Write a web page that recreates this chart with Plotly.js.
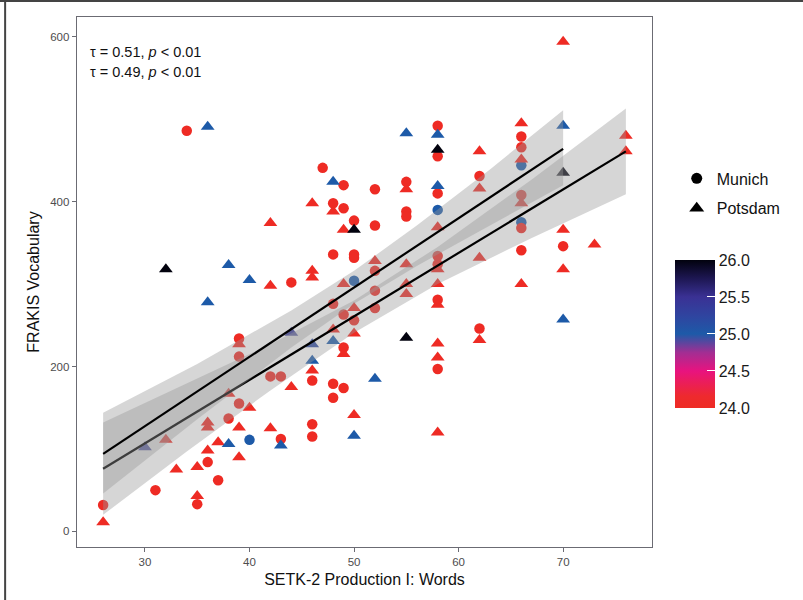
<!DOCTYPE html>
<html><head><meta charset="utf-8">
<script src="https://cdn.plot.ly/plotly-3.0.1.min.js"></script>
<style>html,body{margin:0;padding:0;background:#fff}#chart{width:803px;height:600px}</style>
</head><body><div id="chart"></div>
<script>
// ---- Munich (circles) ----
const munichX = [26,31,34,35,36,37,38, 39,39,39, 40, 42, 43,43, 44, 46,46,46, 47,
  48,48,48,48,48, 49,49,49,49,49, 50,50,50,50,50, 52,52,52,52,52, 55,55,55,
  58,58,58,58,58,58,58,58, 62,62, 66,66,66,66,66,66,66, 70];
const munichY = [32,50,486,33,84,62,137, 234,212,155, 111, 188, 188,112, 302, 183,130,115, 441,
  398,336,276,179,162, 420,392,263,223,174, 377,336,332,304,256, 415,371,316,292,271, 424,388,382,
  492,455,410,390,334,324,281,197, 431,246, 479,466,444,408,375,368,341, 346];
const munichAge = [24,24,24,24,24,24,24, 24,24,24, 25, 24, 24,24, 24, 24,24,24, 24,
  24,24,24,24,24, 24,24,24,24,24, 24,24,24,25,24, 24,24,24,24,24, 24,24,24,
  24,24,24,25,24,24,24,24, 24,24, 24,24,25,24,25,24,24, 24];

// ---- Potsdam (triangles) ----
const potsdamX = [26, 30, 32,32, 33, 35,35, 36,36,36,36,36, 37, 38,38,38, 39,39,39, 40,40,
  42,42,42, 43, 44,44, 46,46,46,46,46,46, 48,48,48,48, 49,49,49, 50,50,50,50,50, 52,52,
  55,55,55,55,55,55, 58,58,58,58,58,58,58,58,58,58, 62,62,62,62, 66,66,66,66,
  70,70,70,70,70,70, 73, 76,76];
const potsdamY = [11, 102, 318,111, 75, 78,43, 491,278,132,126,98, 108, 323,167,106, 227,126,90, 305,150,
  374,298,125, 104, 241,175, 398,316,308,227,207,195, 424,388,245,231, 366,300,215, 366,271,240,141,116, 328,185,
  483,415,324,300,288,235, 481,463,419,369,318,300,275,228,211,120, 461,416,332,232, 495,451,398,300,
  594,492,435,366,318,257, 348, 480,461];
const potsdamAge = [24, 25.4, 26,24, 24, 24,24, 25,25,24,24,24, 24, 25,24,25, 24,24,24, 25,24,
  24,24,24, 25, 25.4,24, 24,24,24,25.2,25,24, 25,24,24,25, 24,24,24, 26,24,24,24,25, 24,25,
  25,24,24,24,24,26, 25,26,25,24,24,24,24,24,24,24, 24,24,24,24, 24,24,24,24,
  24,25,26,24,24,25, 24, 24,24];

// ---- linear fits with 95% confidence bands ----
const fitMunichX = [26, 70];
const fitMunichY = [94, 464];
const bandMunichX  = [26, 35, 44, 50, 56, 63, 70];
const bandMunichLo = [46, 136, 223, 276, 322, 371, 420];
const bandMunichHi = [144, 203, 268, 316, 371, 439, 511];

const fitPotsdamX = [26, 76];
const fitPotsdamY = [76, 461];
const bandPotsdamX  = [26, 34, 42, 50, 58, 67, 76];
const bandPotsdamLo = [20, 97, 171, 241, 300, 356, 409];
const bandPotsdamHi = [132, 179, 227, 280, 345, 427, 513];

const groupNames = ['Munich', 'Potsdam'];
const tauLabels = ['\u03c4 = 0.51, <i>p</i> &lt; 0.01', '\u03c4 = 0.49, <i>p</i> &lt; 0.01'];
const colorTicks = [24, 24.5, 25, 25.5, 26];
const xTicks = [30, 40, 50, 60, 70];
const yTicks = [0, 200, 400, 600];

const colorscale = [[0,'#ee2b24'],[0.08,'#ee2a2e'],[0.25,'#e8137f'],[0.375,'#a22e93'],
  [0.5,'#1d5aa8'],[0.62,'#2f45a0'],[0.75,'#3a3194'],[0.88,'#1c1650'],[1,'#02020e']];

const font = 'Liberation Sans, Arial, Helvetica, sans-serif';
const common = {cmin:24, cmax:26, colorscale:colorscale, line:{width:0}};

function bandTrace(xs, lo, hi){
  return {x: xs.concat(xs.slice().reverse()), y: hi.concat(lo.slice().reverse()),
    type:'scatter', mode:'lines', fill:'toself', fillcolor:'rgba(153,153,153,0.4)',
    line:{width:0}, hoverinfo:'skip', showlegend:false};
}
function lineTrace(xs, ys){
  return {x: xs, y: ys, type:'scatter', mode:'lines', line:{color:'#000', width:2.2},
    hoverinfo:'skip', showlegend:false};
}

const traces = [
  {x: munichX, y: munichY, type:'scatter', mode:'markers', showlegend:false,
   marker: Object.assign({symbol:'circle', size:10.5, color:munichAge, showscale:false}, common)},
  {x: potsdamX, y: potsdamY, type:'scatter', mode:'markers', showlegend:false,
   marker: Object.assign({symbol:'triangle-up', size:12, color:potsdamAge, showscale:true,
     colorbar:{thickness:40, thicknessmode:'pixels', len:148, lenmode:'pixels',
       x:1.04, xanchor:'left', xpad:0, y:0.402, yanchor:'middle', ypad:0,
       outlinewidth:0, tickvals:colorTicks, tickformat:'.1f', ticks:'inside', ticklen:8,
       tickcolor:'#ffffff', tickwidth:1, tickfont:{family:font, size:16, color:'#1a1a1a'}}}, common)},
  bandTrace(bandPotsdamX, bandPotsdamLo, bandPotsdamHi), lineTrace(fitPotsdamX, fitPotsdamY),
  bandTrace(bandMunichX, bandMunichLo, bandMunichHi), lineTrace(fitMunichX, fitMunichY),
  {x:[null], y:[null], type:'scatter', mode:'markers', name:groupNames[0], legendgroup:'m',
   marker:{symbol:'circle', size:11, color:'#000'}},
  {x:[null], y:[null], type:'scatter', mode:'markers', name:groupNames[1], legendgroup:'p',
   marker:{symbol:'triangle-up', size:13, color:'#000'}}
];

const axisCommon = {showgrid:false, zeroline:false, showline:true, mirror:true, linecolor:'#6b6b73',
  linewidth:1.3, ticks:'outside', ticklen:4, tickcolor:'#6b6b73', tickwidth:1,
  tickfont:{family:font, size:11.5, color:'#4d4d4d'}};

const layout = {
  width:803, height:600, paper_bgcolor:'#fff', plot_bgcolor:'#fff',
  margin:{l:77, r:151, t:17, b:53},
  font:{family:font},
  xaxis: Object.assign({range:[23.5,78.5], tickvals:xTicks,
    title:{text:'SETK-2 Production I: Words', font:{family:font, size:16, color:'#111'}, standoff:6}}, axisCommon),
  yaxis: Object.assign({range:[-19,624], tickvals:yTicks,
    title:{text:'FRAKIS Vocabulary', font:{family:font, size:16, color:'#111'}, standoff:6}}, axisCommon),
  legend:{x:1.043, xanchor:'left', y:0.7275, yanchor:'top', font:{family:font, size:16, color:'#111'},
    tracegroupgap:6, bgcolor:'rgba(0,0,0,0)'},
  annotations: tauLabels.map((t,i)=>({text:t, xref:'paper', yref:'paper', x:0.019, y:0.934-0.038*i,
    xanchor:'left', yanchor:'middle', showarrow:false, font:{family:font, size:14.5, color:'#111'}})),
  shapes:[
    {type:'line', xref:'paper', yref:'paper', x0:-0.125, x1:-0.125, y0:-0.11, y1:1.032, line:{color:'#444', width:2}},
    {type:'line', xref:'paper', yref:'paper', x0:-0.134, x1:1.27, y0:1.03, y1:1.03, line:{color:'#444', width:2}}
  ]
};

Plotly.newPlot('chart', traces, layout, {displayModeBar:false, staticPlot:true});
</script></body></html>
